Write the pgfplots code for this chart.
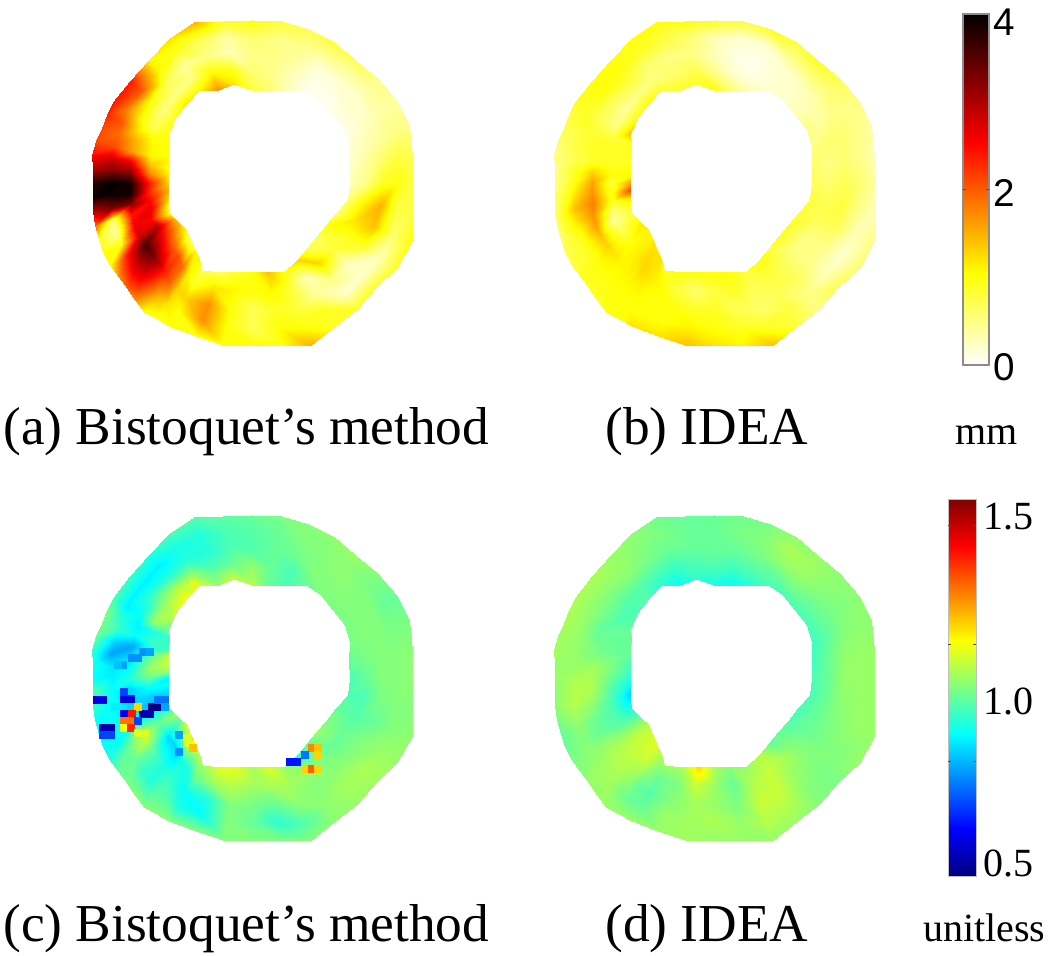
\documentclass[border=0pt]{standalone}
\usepackage{fontspec}
\setmainfont{Liberation Serif}
\newfontfamily\arialf{Liberation Sans}
\usepackage{pgfplots}
\usepackage{pgfplotstable}
\pgfplotsset{compat=1.18}
\pgfplotstableread{
a r va vb vc vd
0 98 .3 .7 .97 .97
0 114 .5 .6 1.0 1.0
0 129 .9 .7 1.03 1.05
0 145 1.0 .6 1.03 1.05
0 160 .8 .4 1.04 1.05
10 99 .2 .6 1.0 .96
10 115 .4 .5 1.02 1.0
10 130 .6 .6 1.03 1.04
10 146 .8 .5 1.03 1.05
10 162 .7 .3 1.04 1.05
20 104 .2 .5 1.02 .96
20 120 .3 .6 1.03 .99
20 136 .4 .6 1.03 1.03
20 151 .5 .5 1.02 1.04
20 167 .5 .4 1.02 1.04
30 107 .1 .5 1.02 .97
30 122 .2 .4 1.03 1.0
30 136 .3 .5 1.03 1.02
30 151 .4 .5 1.0 1.03
30 166 .4 .5 1.0 1.04
40 106 .1 .3 1.02 .97
40 120 .2 .3 1.03 1.0
40 134 .2 .4 1.03 1.03
40 149 .4 .6 1.02 1.04
40 163 .5 .7 1.03 1.04
50 108 .1 .2 1.03 .97
50 121 .1 .2 1.03 1.02
50 134 .2 .3 1.04 1.05
50 148 .4 .6 1.04 1.06
50 161 .7 .9 1.05 1.05
60 107 .1 .2 1.0 .97
60 121 .1 .2 1.03 1.0
60 135 .2 .2 1.03 1.05
60 149 .5 .5 1.03 1.07
60 163 .8 .8 1.04 1.04
70 99 .3 .3 .97 .93
70 115 .3 .1 .97 .98
70 132 .4 .1 1.01 1.02
70 148 .5 .2 1.03 1.03
70 164 .7 .9 1.03 1.02
80 94 .6 .6 1.0 .90
80 112 .5 .2 1.0 .96
80 130 .5 .1 1.0 1.0
80 147 .5 .2 1.0 1.02
80 165 .8 .8 1.02 1.01
90 93 .8 1.0 1.08 .92
90 110 .6 .5 1.05 .97
90 128 .5 .3 .98 1.0
90 145 .6 .3 .98 1.0
90 163 1.0 .9 1.0 1.0
100 101 1.2 .9 1.1 .95
100 117 .9 .7 1.0 .97
100 133 .3 .5 .97 1.0
100 149 .4 .6 .97 1.0
100 165 .9 1.0 .99 1.0
110 99 1.7 .9 1.05 .90
110 117 1.1 .6 .98 .95
110 135 .5 .5 .93 1.0
110 153 .7 .8 .93 1.02
110 171 1.5 1.0 .98 1.01
120 107 1.1 .9 1.12 .94
120 122 .5 .5 1.03 .98
120 136 .4 .6 .93 1.02
120 151 .9 .9 .92 1.03
120 166 1.2 1.0 .97 1.04
130 103 1.2 1.0 1.15 .98
130 117 .5 .5 1.08 .98
130 132 .7 .8 .93 1.03
130 146 1.1 1.0 .88 1.05
130 160 1.1 1.0 .93 1.05
140 101 .9 1.0 1.1 .97
140 115 .5 .4 1.05 .98
140 130 1.0 .7 .95 1.02
140 144 2.0 1.0 .88 1.05
140 159 2.4 1.0 .95 1.07
150 97 1.0 1.4 1.0 1.0
150 113 .7 .5 1.05 .98
150 129 1.1 .7 .9 1.02
150 145 1.8 .9 .88 1.05
150 161 2.4 .9 .97 1.07
155 92 1.0 .9 .95 1.0
155 109 1.0 .8 .92 1.0
155 126 1.2 .8 .88 1.0
155 143 2.0 .9 .93 1.05
155 160 2.3 .8 1.02 1.07
160 89 1.0 .9 .95 1.0
160 107 1.1 .9 .95 1.0
160 125 1.5 .9 .9 1.0
160 142 1.9 .8 .95 1.05
160 160 2.1 .7 1.02 1.07
165 87 1.1 .9 1.08 1.0
165 106 1.1 .9 .95 1.0
165 124 1.6 .9 .8 1.02
165 143 2.1 .8 .85 1.05
165 161 2.1 .6 1.0 1.06
170 85 1.0 1.0 1.1 .97
170 104 1.4 .9 1.02 1.02
170 124 2.6 .9 .85 1.03
170 143 2.8 .7 .8 1.05
170 162 2.5 .5 .95 1.06
175 84 1.2 1.1 1.05 .96
175 103 1.8 1.0 1.05 1.02
175 122 3.2 1.3 .9 1.06
175 141 3.3 .9 .87 1.05
175 160 3.0 .5 .92 1.05
180 84 1.3 1.6 .88 .93
180 103 2.4 .8 1.0 1.0
180 122 3.9 1.6 .93 1.07
180 140 4.0 1.0 .88 1.07
180 159 3.8 .5 .9 1.05
185 84 1.5 2.1 .9 .9
185 103 2.3 .9 .9 .98
185 122 3.9 1.7 .85 1.07
185 141 3.9 1.2 .9 1.08
185 160 3.9 .6 .98 1.04
190 85 1.3 1.2 .85 .85
190 104 2.5 .9 .85 .97
190 123 3.2 1.8 .85 1.05
190 142 3.3 1.4 .9 1.08
190 161 3.0 .6 .95 1.04
195 87 1.0 .9 .88 .88
195 106 2.7 .6 .82 .97
195 125 2.4 1.7 .85 1.03
195 144 .5 1.2 .9 1.06
195 163 2.0 .6 .9 1.02
200 88 1.0 .8 .95 .92
200 107 2.5 .4 .9 .98
200 126 2.6 1.6 .92 1.0
200 144 .4 1.0 .9 1.04
200 163 .9 .6 .9 1.0
205 85 1.5 1.0 1.05 .97
205 105 3.0 .6 1.0 .98
205 125 2.8 1.4 1.05 1.0
205 144 1.0 .9 .9 1.03
205 164 1.0 .7 .9 1.0
210 83 1.4 1.2 1.0 1.03
210 103 2.5 .8 .95 1.03
210 124 3.6 1.3 1.1 1.04
210 144 2.4 .9 1.0 1.04
210 164 1.0 .8 .93 1.02
215 81 1.0 1.1 1.1 1.08
215 102 2.2 1.0 .85 1.08
215 122 3.4 1.2 1.0 1.07
215 143 2.8 1.0 1.0 1.05
215 163 1.7 .9 1.0 1.03
220 82 .6 1.1 1.12 1.1
220 102 2.0 1.1 .85 1.1
220 123 3.0 1.1 .95 1.08
220 143 2.7 1.0 .95 1.06
220 163 2.0 .9 1.02 1.05
225 85 .6 1.2 1.2 1.12
225 105 2.1 1.2 .85 1.1
225 125 2.4 1.1 .92 1.08
225 145 2.1 1.0 .93 1.06
225 165 1.7 .9 1.03 1.05
230 89 1.1 1.2 1.1 1.12
230 109 1.9 1.3 .92 1.1
230 129 2.0 1.1 .95 1.05
230 148 1.5 1.0 .98 1.02
230 168 1.0 1.0 1.03 1.05
235 93 1.1 1.2 1.08 1.08
235 111 1.1 1.2 .92 1.05
235 130 1.3 1.1 .92 1.0
235 148 1.2 1.0 .98 1.0
235 166 .9 1.0 1.03 1.05
240 100 .7 1.0 1.05 1.05
240 116 .9 1.1 1.0 1.0
240 133 1.3 1.0 .9 .98
240 149 1.0 1.0 .92 1.0
240 165 1.0 1.2 1.03 1.05
250 95 .7 1.0 1.13 1.07
250 112 1.2 .8 1.06 1.02
250 129 1.7 1.0 .93 1.03
250 146 1.7 1.0 .9 1.05
250 163 1.0 1.2 1.03 1.05
260 90 .9 1.0 1.13 1.2
260 109 1.1 .6 1.08 1.1
260 128 1.0 .9 1.03 1.06
260 146 1.0 1.1 1.03 1.06
260 165 1.0 1.4 1.03 1.06
270 89 1.0 1.0 1.07 1.07
270 107 1.0 .8 1.06 1.05
270 126 .7 .9 1.02 1.05
270 144 .7 1.0 1.0 1.07
270 162 1.0 1.2 1.03 1.05
280 90 1.4 1.0 1.12 1.03
280 109 1.1 .9 1.07 1.0
280 128 .9 .7 1.0 1.02
280 146 1.0 .9 .94 1.05
280 165 1.0 1.1 1.02 1.05
290 95 1.0 .8 1.05 1.05
290 114 .8 .7 1.06 1.08
290 134 .8 .6 1.04 1.1
290 153 1.0 .9 .98 1.08
290 172 1.5 1.4 1.03 1.05
300 89 1.3 1.0 .95 1.08
300 108 .3 .8 1.05 1.1
300 127 .4 .7 1.03 1.1
300 146 .9 .8 1.04 1.08
300 165 .9 .8 1.04 1.05
310 85 .7 .8 1.0 1.0
310 105 1.3 .7 1.02 1.07
310 125 .5 .7 1.04 1.05
310 144 .2 .5 1.06 1.03
310 164 .9 .5 1.05 1.03
320 84 .7 .9 1.05 1.0
320 104 .8 .5 1.0 1.03
320 123 .3 .5 1.03 1.03
320 143 .2 .3 1.07 1.02
320 162 .9 .7 1.06 1.02
330 85 1.0 .9 1.03 .98
330 106 .9 .5 1.0 1.0
330 127 .9 .5 1.03 1.02
330 147 .3 .2 1.05 1.03
330 168 .9 .6 1.05 1.05
340 89 .6 .8 1.0 .97
340 109 1.2 .7 .98 1.0
340 130 1.4 .7 1.0 1.03
340 150 .6 .3 1.03 1.05
340 170 1.0 .5 1.04 1.05
350 97 .6 .8 .97 .97
350 113 1.1 .7 .97 1.0
350 130 1.5 .8 1.02 1.04
350 146 .8 .5 1.03 1.05
350 162 .8 .3 1.03 1.05
360 98 .3 .7 .97 .97
360 114 .5 .6 1.0 1.0
360 129 .9 .7 1.03 1.05
360 145 1.0 .6 1.03 1.05
360 160 .8 .4 1.04 1.05
}\ringtable
\pgfplotstableread{
x y v
97 700 .6
103 700 .6
124 699 .6
131 699 .6
124 692 .7
152 707 .5
158 707 .5
143 714 .55
150 714 .55
124 714 .6
132 707 .85
138 707 1.2
132 714 1.4
124 721 1.3
131 721 1.3
138 721 .7
124 728 1.15
131 728 1.38
103 728 .55
111 728 .55
103 735 .7
111 735 .7
115 707 .88
158 700 .75
165 700 .75
165 707 .8
138 733 1.12
145 733 1.12
187 738 1.12
187 743 1.12
193 748 1.22
179 735 .8
179 752 .78
193 583 1.12
187 588 1.1
312 748 1.28
318 748 1.22
318 755 1.2
305 755 .75
290 762 .65
297 762 .65
305 769 1.2
312 769 1.32
318 769 1.2
143 652 .78
150 652 .8
132 658 .78
138 658 .78
123 665 .8
118 665 .83
}\specks
\pgfplotsset{
  colormap={hotr}{rgb(0)=(1,1,1) rgb(1.05)=(1,1,0) rgb(2.53)=(1,0,0) rgb(4)=(0,0,0)},
  colormap={jetm}{rgb(0)=(0,0,.5) rgb(1)=(0,0,1) rgb(3)=(0,1,1) rgb(5)=(1,1,0) rgb(7)=(1,0,0) rgb(8)=(.5,0,0)},
  page/.style={at={(0,0)},anchor=south west,scale only axis,width=787.5pt,height=717pt,
    xmin=0,xmax=1050,ymin=0,ymax=956,zmin=-1,zmax=1,hide axis,clip=false,view={0}{90}},
  ring/.style={surf,shader=interp,mesh/cols=5,point meta=explicit},
  bar/.style={surf,shader=interp,mesh/cols=2,point meta=explicit},
}
\begin{document}
\begin{tikzpicture}[x=0.75pt,y=0.75pt]
\useasboundingbox (0,0) rectangle (1050,956);
\begin{axis}[page,colormap name=hotr,point meta min=0,point meta max=4]
\addplot3[ring] table[x expr=252+\thisrow{r}*cos(\thisrow{a}),y expr=773+\thisrow{r}*sin(\thisrow{a}),z expr=0,meta=va] {\ringtable};
\addplot3[ring] table[x expr=714+\thisrow{r}*cos(\thisrow{a}),y expr=773+\thisrow{r}*sin(\thisrow{a}),z expr=0,meta=vb] {\ringtable};
\addplot3[bar] table[x=x,y=y,z expr=0,meta=m] {
x y m
963 591 0
989 591 0
963 942 4
989 942 4
};
\end{axis}
\begin{axis}[page,colormap name=jetm,point meta min=0.5,point meta max=1.55]
\addplot3[ring] table[x expr=252+\thisrow{r}*cos(\thisrow{a}),y expr=278+\thisrow{r}*sin(\thisrow{a}),z expr=0,meta=vc] {\ringtable};
\addplot3[ring] table[x expr=714+\thisrow{r}*cos(\thisrow{a}),y expr=278+\thisrow{r}*sin(\thisrow{a}),z expr=0,meta=vd] {\ringtable};
\addplot[scatter,only marks,mark=square*,mark size=2.6pt,scatter src=explicit,
  scatter/use mapped color={draw=mapped color,fill=mapped color}]
  table[x=x,y expr=956-\thisrow{y},meta=v] {\specks};
\addplot3[bar] table[x=x,y=y,z expr=0,meta=m] {
x y m
948 80 0.5
976 80 0.5
948 457 1.55
976 457 1.55
};
\end{axis}
% colour bar frames and tick marks
\draw[black!45,line width=0.9pt] (963,591) rectangle (989,942);
\draw[black!70,line width=0.6pt] (963,767)--(966,767) (986,767)--(989,767);
\draw[black!25,line width=0.6pt] (948,80) rectangle (976,457);
\draw[black!70,line width=0.6pt] (948,195)--(951,195) (973,195)--(976,195)
  (948,312)--(951,312) (973,312)--(976,312)
  (948,431)--(951,431) (973,431)--(976,431);
\tikzset{barlab/.style={anchor=base west,inner sep=0pt,font=\fontsize{29}{29}\arialf}}
\node[barlab] at (993,956-36) {4};
\node[barlab] at (993,956-207) {2};
\node[barlab] at (993,956-381) {0};
\tikzset{captxt/.style={anchor=base west,inner sep=0pt,font=\fontsize{40}{40}\selectfont}}
\node[captxt] at (3,956-445) {(a) Bistoquet’s method};
\node[captxt] at (605,956-445) {(b) IDEA};
\node[captxt] at (3,956-942) {(c) Bistoquet’s method};
\node[captxt] at (605,956-942) {(d) IDEA};
\tikzset{unittxt/.style={anchor=base west,inner sep=0pt,font=\fontsize{30}{30}\selectfont}}
\node[unittxt] at (955,956-445) {mm};
\node[unittxt] at (923,956-942) {unitless};
\node[unittxt] at (983,956-530) {1.5};
\node[unittxt] at (983,956-715) {1.0};
\node[unittxt] at (983,956-877) {0.5};
\end{tikzpicture}
\end{document}
